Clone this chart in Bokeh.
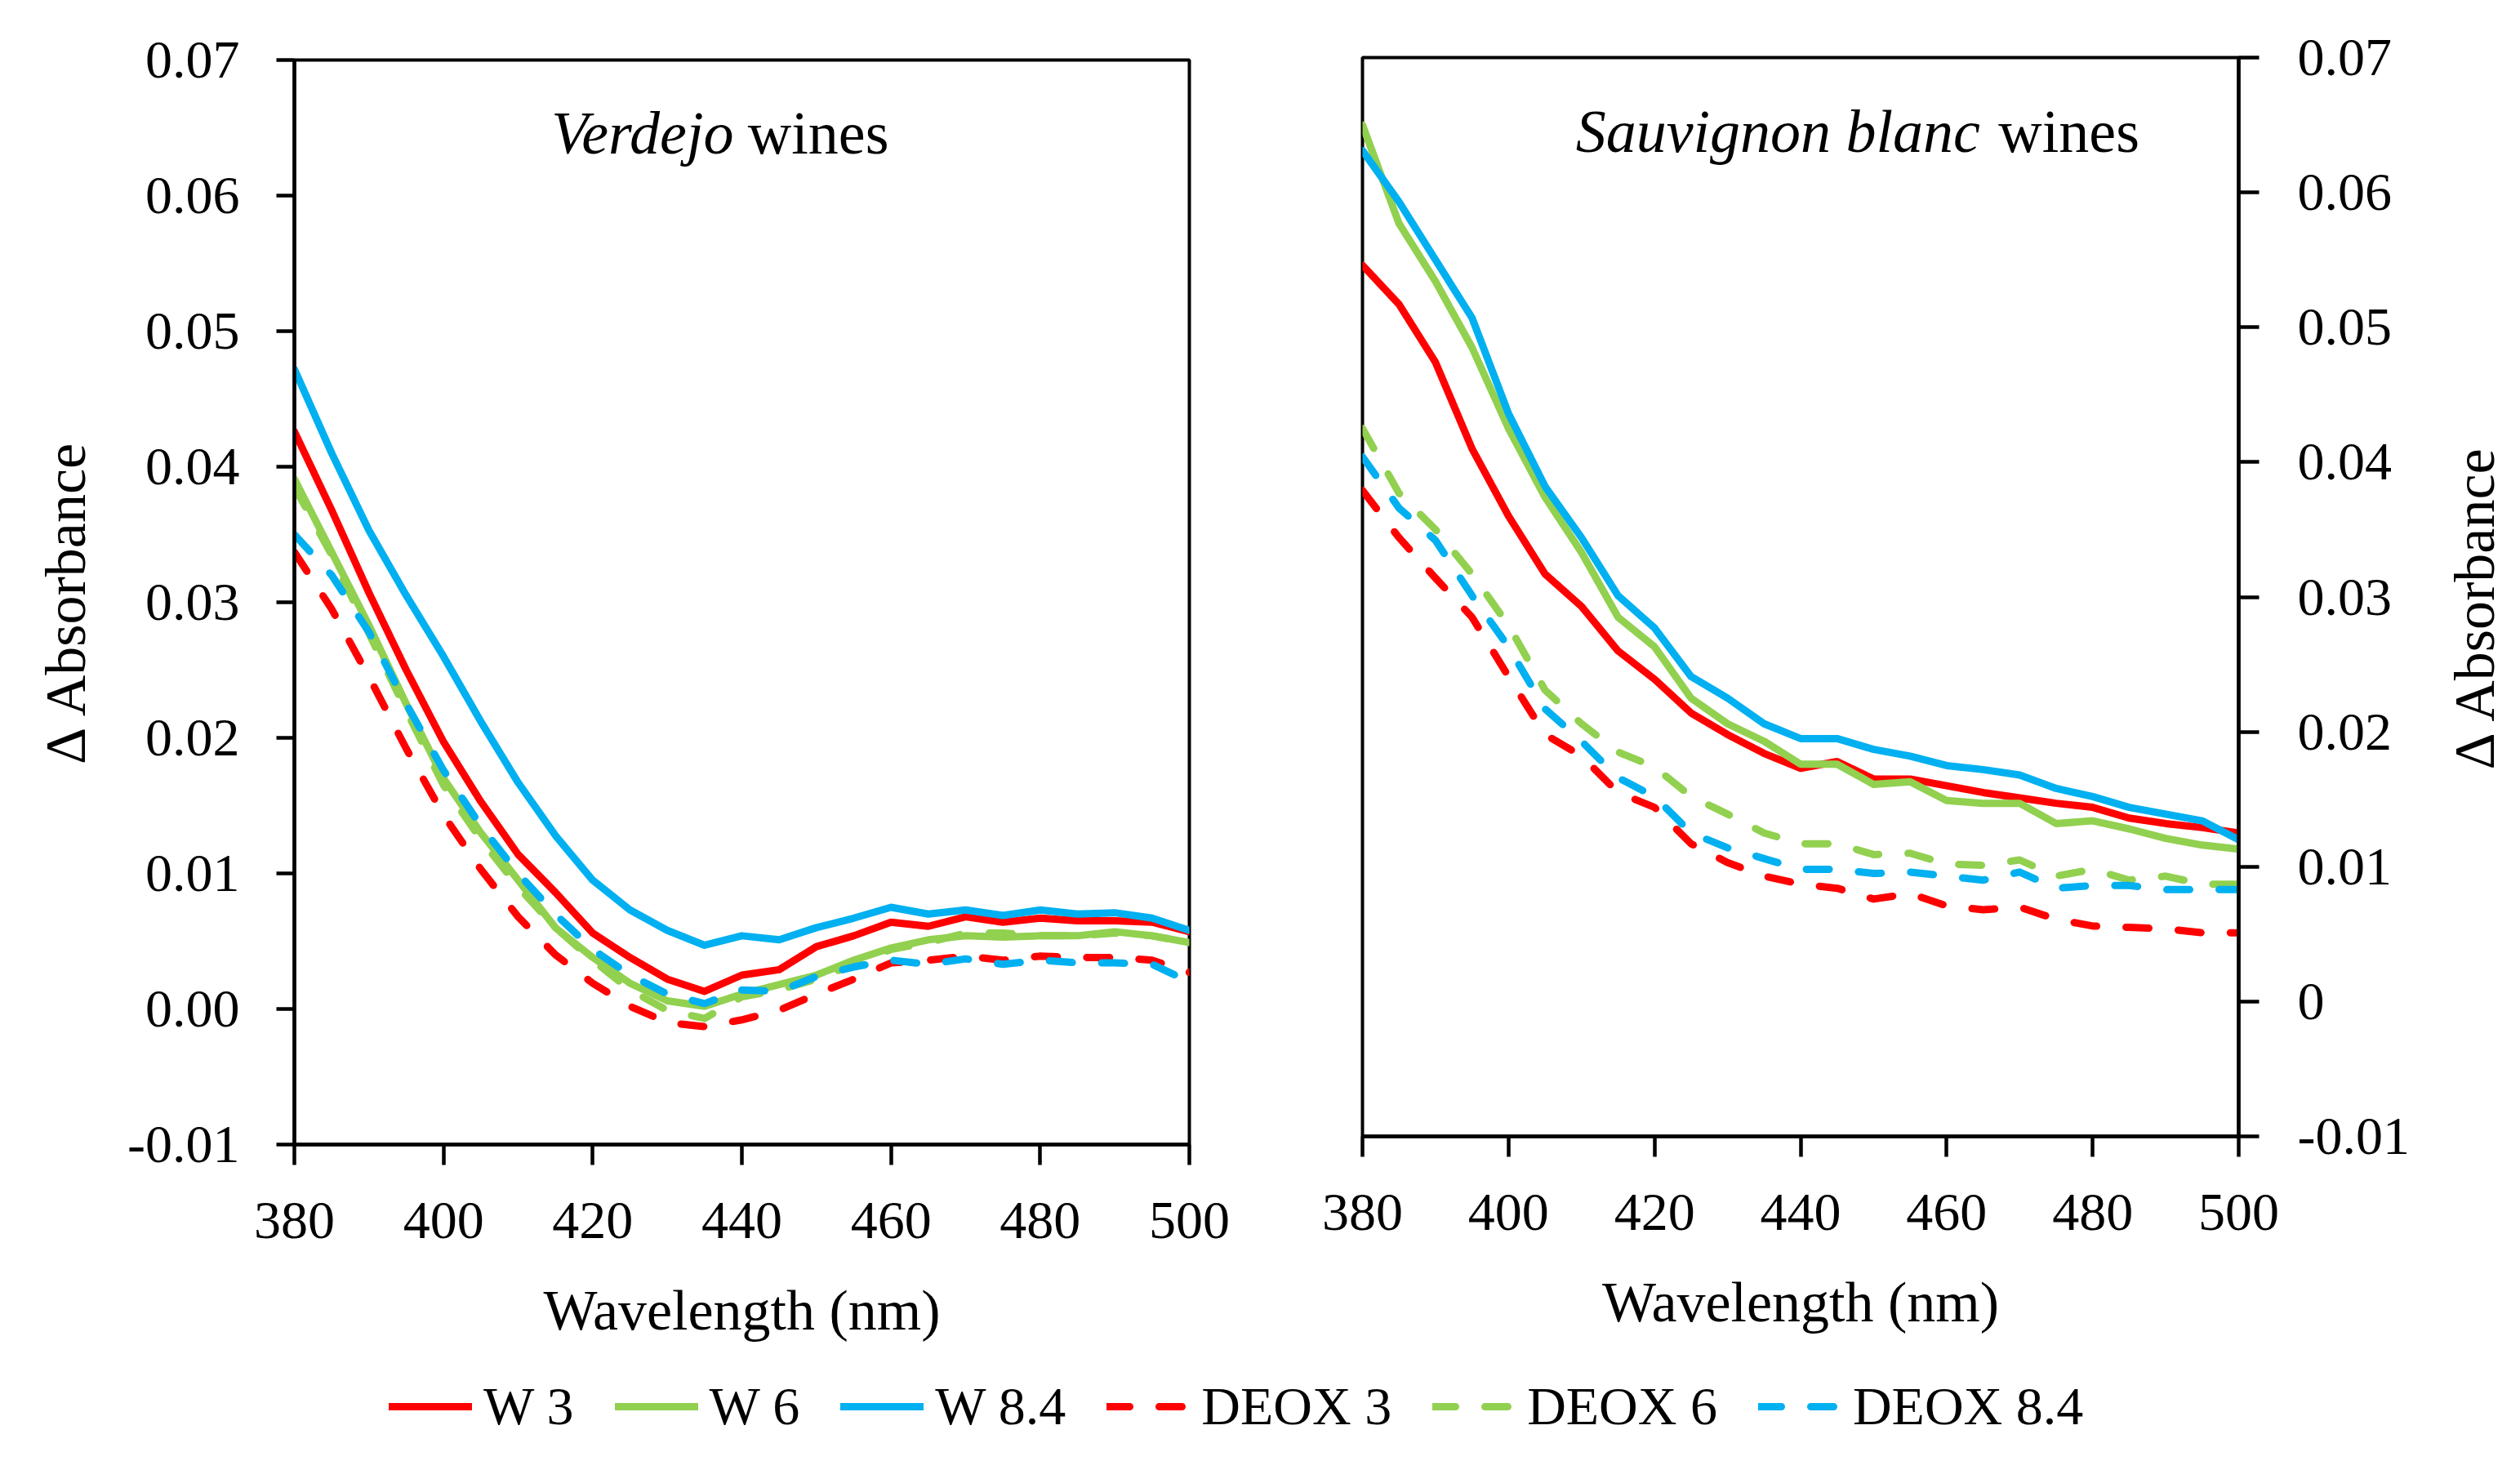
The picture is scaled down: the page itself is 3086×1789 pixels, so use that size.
import math
from bokeh.plotting import figure
from bokeh.models import Range1d, FixedTicker, Label, Legend, LegendItem
from bokeh.layouts import row, column
from bokeh.embed import file_html
from bokeh.resources import INLINE

# ---------------- data ----------------
wavelength = [380, 385, 390, 395, 400, 405, 410, 415, 420, 425, 430, 435, 440,
              445, 450, 455, 460, 465, 470, 475, 480, 485, 490, 495, 500]

# Verdejo wines
verdejo_w3 = [0.0426, 0.0368, 0.0307, 0.0250, 0.0197, 0.0153, 0.0114, 0.0086, 0.0056, 0.0038, 0.0022, 0.0013, 0.0025,
              0.0029, 0.0046, 0.0054, 0.0064, 0.0061, 0.0068, 0.0064, 0.0067, 0.0065, 0.0065, 0.0064, 0.0057]
verdejo_w6 = [0.0391, 0.0337, 0.0283, 0.0225, 0.0170, 0.0130, 0.0095, 0.0060, 0.0038, 0.0019, 0.0006, 0.0002, 0.0011,
              0.0018, 0.0025, 0.0036, 0.0045, 0.0051, 0.0054, 0.0053, 0.0054, 0.0054, 0.0057, 0.0054, 0.0049]
verdejo_w84 = [0.0472, 0.0410, 0.0353, 0.0305, 0.0260, 0.0212, 0.0167, 0.0128, 0.0095, 0.0073, 0.0058, 0.0047, 0.0054,
               0.0051, 0.0060, 0.0067, 0.0075, 0.0070, 0.0073, 0.0069, 0.0073, 0.0070, 0.0071, 0.0067, 0.0058]
verdejo_d3 = [0.0337, 0.0295, 0.0245, 0.0192, 0.0143, 0.0103, 0.0068, 0.0040, 0.0019, 0.0002, -0.0010, -0.0013, -0.0008,
              -0.0001, 0.0011, 0.0022, 0.0034, 0.0036, 0.0039, 0.0036, 0.0039, 0.0038, 0.0038, 0.0036, 0.0027]
verdejo_d6 = [0.0385, 0.0335, 0.0277, 0.0220, 0.0165, 0.0125, 0.0090, 0.0060, 0.0036, 0.0014, -0.0001, -0.0007, 0.0009,
              0.0014, 0.0022, 0.0033, 0.0044, 0.0049, 0.0056, 0.0056, 0.0054, 0.0054, 0.0056, 0.0054, 0.0049]
verdejo_d84 = [0.0350, 0.0320, 0.0278, 0.0225, 0.0176, 0.0135, 0.0100, 0.0070, 0.0044, 0.0025, 0.0011, 0.0004, 0.0014,
               0.0013, 0.0024, 0.0031, 0.0036, 0.0033, 0.0037, 0.0033, 0.0036, 0.0034, 0.0034, 0.0033, 0.0020]

# Sauvignon blanc wines
sauv_w3 = [0.0546, 0.0517, 0.0474, 0.0410, 0.0360, 0.0317, 0.0293, 0.0260, 0.0239, 0.0214, 0.0198, 0.0184, 0.0173,
           0.0178, 0.0165, 0.0165, 0.0160, 0.0155, 0.0151, 0.0147, 0.0144, 0.0136, 0.0132, 0.0129, 0.0125]
sauv_w6 = [0.0650, 0.0577, 0.0534, 0.0485, 0.0425, 0.0374, 0.0333, 0.0285, 0.0263, 0.0225, 0.0206, 0.0193, 0.0176,
           0.0176, 0.0161, 0.0163, 0.0149, 0.0147, 0.0147, 0.0132, 0.0134, 0.0128, 0.0121, 0.0116, 0.0113]
sauv_w84 = [0.0631, 0.0593, 0.0550, 0.0507, 0.0436, 0.0382, 0.0344, 0.0301, 0.0277, 0.0241, 0.0225, 0.0206, 0.0195,
            0.0195, 0.0187, 0.0182, 0.0175, 0.0172, 0.0168, 0.0158, 0.0152, 0.0144, 0.0139, 0.0134, 0.0120]
sauv_d3 = [0.0379, 0.0344, 0.0314, 0.0285, 0.0241, 0.0198, 0.0182, 0.0155, 0.0144, 0.0117, 0.0103, 0.0093, 0.0087,
           0.0084, 0.0076, 0.0080, 0.0071, 0.0068, 0.0070, 0.0061, 0.0056, 0.0055, 0.0054, 0.0051, 0.0051]
sauv_d6 = [0.0425, 0.0377, 0.0350, 0.0317, 0.0279, 0.0231, 0.0206, 0.0185, 0.0174, 0.0152, 0.0139, 0.0125, 0.0117,
           0.0117, 0.0109, 0.0110, 0.0102, 0.0101, 0.0105, 0.0093, 0.0098, 0.0090, 0.0093, 0.0087, 0.0087]
sauv_d84 = [0.0404, 0.0366, 0.0342, 0.0301, 0.0263, 0.0217, 0.0193, 0.0166, 0.0152, 0.0125, 0.0114, 0.0106, 0.0098,
            0.0098, 0.0095, 0.0096, 0.0093, 0.0090, 0.0096, 0.0084, 0.0086, 0.0086, 0.0083, 0.0083, 0.0083]

series_names = ["W 3", "W 6", "W 8.4", "DEOX 3", "DEOX 6", "DEOX 8.4"]
series_colors = ["#FF0000", "#92D050", "#00B0F0", "#FF0000", "#92D050", "#00B0F0"]
series_dashed = [False, False, False, True, True, True]
verdejo_series = [verdejo_w3, verdejo_w6, verdejo_w84, verdejo_d3, verdejo_d6, verdejo_d84]
sauv_series = [sauv_w3, sauv_w6, sauv_w84, sauv_d3, sauv_d6, sauv_d84]

x_ticks = [380, 400, 420, 440, 460, 480, 500]
x_tick_labels = ["380", "400", "420", "440", "460", "480", "500"]
y_ticks = [-0.01, 0.0, 0.01, 0.02, 0.03, 0.04, 0.05, 0.06, 0.07]
y_tick_labels_left = ["-0.01", "0.00", "0.01", "0.02", "0.03", "0.04", "0.05", "0.06", "0.07"]
y_tick_labels_right = ["-0.01", "0", "0.01", "0.02", "0.03", "0.04", "0.05", "0.06", "0.07"]

x_title = "Wavelength (nm)"
y_title = "\u0394 Absorbance"

# ---------------- style ----------------
FONT = "Liberation Serif"
TICK_SIZE = "66px"
AXLABEL_SIZE = "70px"
TITLE_SIZE = "74px"
LEG_SIZE = "66px"
LW = 9
DASH = "28 36"
ROW_H = 1680


def style_axis(ax, tick_out, label_standoff, axlabel_standoff):
    ax.axis_line_color = "black"
    ax.axis_line_width = 4.5
    ax.major_tick_line_color = "black"
    ax.major_tick_line_width = 4.5
    ax.major_tick_out = tick_out
    ax.major_tick_in = 0
    ax.minor_tick_line_color = None
    ax.major_label_text_font = FONT
    ax.major_label_text_font_size = TICK_SIZE
    ax.major_label_text_color = "black"
    ax.major_label_standoff = label_standoff
    ax.axis_label_text_font = FONT
    ax.axis_label_text_font_size = AXLABEL_SIZE
    ax.axis_label_text_font_style = "normal"
    ax.axis_label_text_color = "black"
    ax.axis_label_standoff = axlabel_standoff


def make_panel(series, y_side, width, borders, y_labels):
    bl, br, bt, bb = borders
    p = figure(width=width, height=ROW_H,
               x_range=Range1d(380, 500), y_range=Range1d(-0.01, 0.07),
               y_axis_location=y_side,
               output_backend="svg", toolbar_location=None,
               min_border_left=bl, min_border_right=br,
               min_border_top=bt, min_border_bottom=bb)
    p.xgrid.visible = False
    p.ygrid.visible = False
    p.background_fill_color = "white"
    p.border_fill_color = "white"
    p.outline_line_color = "black"
    p.outline_line_width = 4
    p.outline_line_alpha = 1.0
    for vals, col, dashed in zip(series, series_colors, series_dashed):
        p.line(wavelength, vals, line_color=col, line_width=LW,
               line_dash=DASH if dashed else "solid",
               line_cap="round", line_join="round")
    xa = p.xaxis[0]
    ya = p.yaxis[0]
    style_axis(xa, 25, 46, 47)
    xa.ticker = FixedTicker(ticks=x_ticks, minor_ticks=[])
    xa.major_label_overrides = dict(zip(x_ticks, x_tick_labels))
    xa.axis_label = x_title
    ya.ticker = FixedTicker(ticks=y_ticks, minor_ticks=[])
    ya.major_label_overrides = dict(zip(y_ticks, y_labels))
    return p, ya


def add_title(p, x_split, x_start, y, italic_part):
    p.add_layout(Label(x=x_split, y=y, text=italic_part, text_align="right",
                       text_baseline="alphabetic", text_font=FONT, text_font_size=TITLE_SIZE,
                       text_font_style="italic", text_color="black"))
    p.add_layout(Label(x=x_start, y=y, text="wines", text_align="left",
                       text_baseline="alphabetic", text_font=FONT, text_font_size=TITLE_SIZE,
                       text_font_style="normal", text_color="black"))


# Left panel: Verdejo
p1, ya1 = make_panel(verdejo_series, "left", 1560, (360, 104, 73, ROW_H - 73 - 1328), y_tick_labels_left)
style_axis(ya1, 22, 45, 34)
ya1.axis_label = y_title
add_title(p1, 438.9, 440.8, 0.0646, "Verdejo")

# Right panel: Sauvignon blanc
R_FRAME_H = 1321
p2, ya2 = make_panel(sauv_series, "right", 1420, (108, 239, 70, ROW_H - 70 - R_FRAME_H), y_tick_labels_right)
style_axis(ya2, 25, 47, 30)
add_title(p2, 464.6, 467.1, 0.0645, "Sauvignon blanc")

# Right-hand "Δ Absorbance" title: drawn as the (bottom-to-top) axis title of a
# narrow companion strip placed right of the Sauvignon blanc panel.
p4 = figure(width=90, height=ROW_H, x_range=Range1d(0, 1), y_range=Range1d(-0.01, 0.07),
            output_backend="svg", toolbar_location=None,
            x_axis_location=None, y_axis_location="left",
            min_border_left=88, min_border_right=0,
            min_border_top=83, min_border_bottom=ROW_H - 83 - R_FRAME_H)
p4.xgrid.visible = False
p4.ygrid.visible = False
p4.outline_line_color = None
p4.background_fill_color = "white"
p4.border_fill_color = "white"
ya4 = p4.yaxis[0]
style_axis(ya4, 0, 0, 0)
ya4.ticker = FixedTicker(ticks=[], minor_ticks=[])
ya4.axis_line_color = None
ya4.major_tick_line_color = None
ya4.axis_label = y_title

# Legend strip
LEG_H = 93
p3 = figure(width=3070, height=LEG_H, x_range=Range1d(0, 1), y_range=Range1d(0, 1),
            output_backend="svg", toolbar_location=None,
            x_axis_location=None, y_axis_location=None,
            min_border=0, min_border_left=0, min_border_right=0,
            min_border_top=0, min_border_bottom=0)
p3.xgrid.visible = False
p3.ygrid.visible = False
p3.outline_line_color = None
p3.background_fill_color = "white"
p3.border_fill_color = "white"
items = []
for name, vals, col, dashed in zip(series_names, verdejo_series, series_colors, series_dashed):
    r = p3.line(wavelength, vals, line_color=col, line_width=LW,
                line_dash=DASH if dashed else "solid",
                line_cap="round", line_join="round")
    items.append(LegendItem(label=name, renderers=[r]))
legend = Legend(items=items, orientation="horizontal", location=(476, LEG_H - 42 - 40),
                padding=0, margin=0, spacing=50, glyph_width=102, glyph_height=80,
                label_height=80, label_standoff=14,
                label_text_font=FONT, label_text_font_size=LEG_SIZE, label_text_color="black",
                border_line_color=None, background_fill_alpha=0)
p3.add_layout(legend, "center")

# nested columns keep each panel's own frame position (no cross-panel frame alignment)
layout = column(row(column(p1), column(p2), column(p4)), p3)
open("out.html", "w").write(file_html(layout, INLINE))
